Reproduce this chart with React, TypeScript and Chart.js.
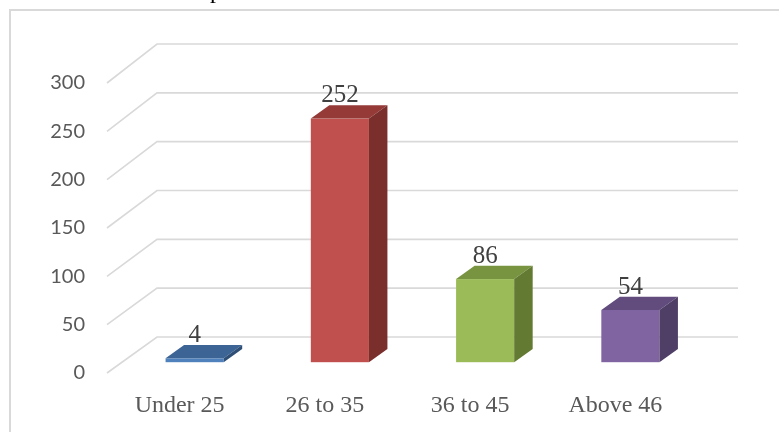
import { useEffect, useRef } from "react";
import { Chart, registerables } from "chart.js";

Chart.register(...registerables);

// Respondents by age group
const ageGroups = ["Under 25", "26 to 35", "36 to 45", "Above 46"];
const respondents = [4, 252, 86, 54];
const yTickValues = [0, 50, 100, 150, 200, 250, 300];

// Face colours for each prism: front, top, side
const frontColors = ["#4F81BD", "#C0504D", "#9BBB59", "#8064A2"];
const topColors = ["#3C6494", "#953A37", "#789440", "#614C7D"];
const sideColors = ["#2F4F77", "#7A2F2D", "#627A31", "#4F3E66"];

const GRID_COLOR = "#D9D9D9";
const WALL_DX = 50; // horizontal depth of the floor/back wall
const WALL_DY = 36; // vertical depth of the floor at value 0
const WALL_DY_TOP = 3; // extra rise of the depth at the top of the axis

// Draws the outer frame and the fragment of the caption line above it
const framePlugin = {
  id: "frame",
  beforeDraw(chart: Chart) {
    const ctx = chart.ctx;
    ctx.save();
    ctx.strokeStyle = GRID_COLOR;
    ctx.lineWidth = 2;
    ctx.beginPath();
    ctx.moveTo(10, chart.height);
    ctx.lineTo(10, 10);
    ctx.lineTo(chart.width, 10);
    ctx.stroke();
    ctx.fillStyle = "#000000";
    ctx.font = "24px 'Liberation Serif'";
    ctx.textAlign = "center";
    ctx.textBaseline = "alphabetic";
    ctx.fillText("p", 216, -2);
    ctx.restore();
  },
};

// Side wall diagonals and back wall gridlines
const wallsPlugin = {
  id: "walls3d",
  beforeDatasetsDraw(chart: Chart) {
    const { ctx, chartArea, scales } = chart;
    const y = scales.y;
    const max = y.max;
    ctx.save();
    ctx.strokeStyle = GRID_COLOR;
    ctx.lineWidth = 1.6;
    y.ticks.forEach((t) => {
      const fy = y.getPixelForValue(t.value);
      const dy = WALL_DY + (WALL_DY_TOP * t.value) / max;
      ctx.beginPath();
      ctx.moveTo(chartArea.left, fy);
      ctx.lineTo(chartArea.left + WALL_DX, fy - dy);
      ctx.lineTo(chartArea.right + WALL_DX, fy - dy);
      ctx.stroke();
    });
    ctx.restore();
  },
};

// Prism bars built from the bar elements' geometry, plus value labels
const prismPlugin = {
  id: "prisms",
  afterDatasetsDraw(chart: Chart) {
    const ctx = chart.ctx;
    const meta = chart.getDatasetMeta(0);
    const offX = WALL_DX * 0.3;
    const offY = WALL_DY * 0.3;
    const depX = WALL_DX * 0.37;
    const depY = WALL_DY * 0.37;
    ctx.save();
    meta.data.forEach((el: any, i: number) => {
      const { x, y, base, width } = el.getProps(["x", "y", "base", "width"], true);
      const l = x - width / 2 + offX;
      const r = x + width / 2 + offX;
      const t = y - offY;
      const b = base - offY;

      // front face
      ctx.fillStyle = frontColors[i];
      ctx.fillRect(l, t, r - l, b - t);

      // top face
      ctx.fillStyle = topColors[i];
      ctx.beginPath();
      ctx.moveTo(l, t);
      ctx.lineTo(r, t);
      ctx.lineTo(r + depX, t - depY);
      ctx.lineTo(l + depX, t - depY);
      ctx.closePath();
      ctx.fill();

      // side face
      ctx.fillStyle = sideColors[i];
      ctx.beginPath();
      ctx.moveTo(r, t);
      ctx.lineTo(r + depX, t - depY);
      ctx.lineTo(r + depX, b - depY);
      ctx.lineTo(r, b);
      ctx.closePath();
      ctx.fill();

      // value label
      ctx.fillStyle = "#404040";
      ctx.font = "25px 'Liberation Serif'";
      ctx.textAlign = "center";
      ctx.textBaseline = "alphabetic";
      ctx.fillText(String(respondents[i]), (l + r) / 2, t - depY - 3);
    });
    ctx.restore();
  },
};

export default function App() {
  const canvasRef = useRef<HTMLCanvasElement | null>(null);

  useEffect(() => {
    const canvas = canvasRef.current;
    if (!canvas) return;
    const chart = new Chart(canvas, {
      type: "bar",
      data: {
        labels: ageGroups,
        datasets: [
          {
            data: respondents,
            backgroundColor: "rgba(0,0,0,0)",
            borderWidth: 0,
            barPercentage: 0.4,
            categoryPercentage: 1,
          },
        ],
      },
      options: {
        responsive: false,
        animation: false,
        devicePixelRatio: 1,
        layout: { padding: { top: 83, left: 0, right: 91, bottom: 0 } },
        plugins: {
          legend: { display: false },
          tooltip: { enabled: false },
        },
        scales: {
          x: {
            grid: { display: false, drawTicks: false },
            border: { display: false },
            ticks: {
              color: "#595959",
              padding: 18,
              font: { family: "'Liberation Serif'", size: 24 },
            },
            afterFit: (s: any) => {
              s.height = 59;
            },
          },
          y: {
            min: 0,
            max: 300,
            afterBuildTicks: (s: any) => {
              s.ticks = yTickValues.map((v) => ({ value: v }));
            },
            grid: { display: false, drawTicks: false },
            border: { display: false },
            ticks: {
              color: "#595959",
              padding: 22,
              font: { family: "Lato", size: 20 },
            },
            afterFit: (s: any) => {
              s.width = 107;
            },
          },
        },
      },
      plugins: [framePlugin, wallsPlugin, prismPlugin],
    });
    return () => chart.destroy();
  }, []);

  return (
    <div style={{ position: "fixed", left: 0, top: 0, width: 779, height: 432, background: "#ffffff" }}>
      <canvas ref={canvasRef} width={779} height={432} />
    </div>
  );
}
